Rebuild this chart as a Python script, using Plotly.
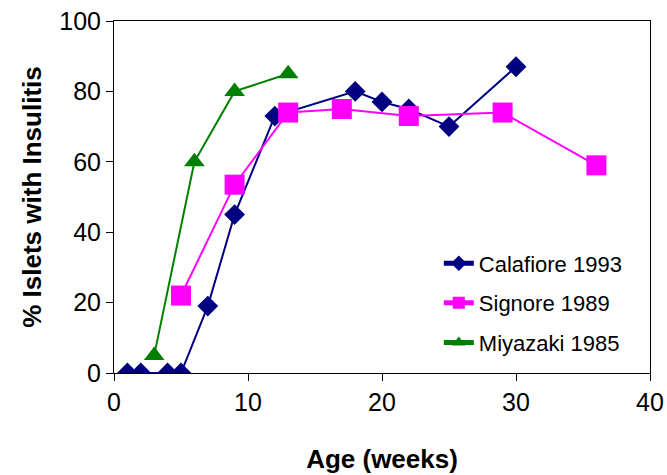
import plotly.graph_objects as go

# Calafiore 1993
cal_x = [1, 2, 4, 5, 7, 9, 12, 18, 20, 22, 25, 30]
cal_y = [0, 0, 0, 0, 19, 45, 73, 80, 77, 75, 70, 87]
# Signore 1989
sig_x = [5, 9, 13, 17, 22, 29, 36]
sig_y = [22, 53.5, 74, 75, 73, 74, 59]
# Miyazaki 1985
miy_x = [3, 6, 9, 13]
miy_y = [5, 60, 80, 85]

x_ticks = [0, 10, 20, 30, 40]
y_ticks = [0, 20, 40, 60, 80, 100]

FONT = "Liberation Sans, Arial, sans-serif"

fig = go.Figure()
fig.add_trace(go.Scatter(x=cal_x, y=cal_y, mode="lines+markers", name="Calafiore 1993",
                         legendgroup="a",
                         line=dict(color="#000080", width=2),
                         marker=dict(symbol="diamond", size=16, color="#000080")))
fig.add_trace(go.Scatter(x=sig_x, y=sig_y, mode="lines+markers", name="Signore 1989",
                         legendgroup="b",
                         line=dict(color="#FF00FF", width=2),
                         marker=dict(symbol="square", size=20, color="#FF00FF")))
fig.add_trace(go.Scatter(x=miy_x, y=miy_y, mode="lines+markers", name="Miyazaki 1985",
                         legendgroup="c",
                         line=dict(color="#008000", width=2),
                         marker=dict(symbol="triangle-up", size=18, color="#008000")))

fig.update_layout(
    width=667, height=475,
    margin=dict(l=114, r=17, t=21, b=102),
    paper_bgcolor="white", plot_bgcolor="white",
    font=dict(family=FONT, size=22, color="black"),
    showlegend=True,
    legend=dict(x=0.606, y=0.199, xanchor="left", yanchor="middle",
                bgcolor="rgba(0,0,0,0)", font=dict(size=22),
                tracegroupgap=8, itemsizing="constant"),
)
fig.update_xaxes(range=[0, 40], tickvals=x_ticks, showgrid=False, zeroline=False,
                 showline=True, linecolor="black", linewidth=1, mirror=True,
                 ticks="outside", ticklen=7, tickcolor="black", automargin=False,
                 tickfont=dict(size=25),
                 title=dict(text="<b>Age (weeks)</b>", font=dict(size=26), standoff=34))
fig.update_yaxes(range=[0, 100], tickvals=y_ticks, showgrid=False, zeroline=False,
                 showline=True, linecolor="black", linewidth=1, mirror=True,
                 ticks="outside", ticklen=7, tickcolor="black", automargin=False,
                 tickfont=dict(size=25), ticksuffix="\u00a0\u2009",
                 title=dict(text="<b>% Islets with Insulitis</b>", font=dict(size=26), standoff=10))

fig.write_html("out.html", config={"displayModeBar": False},
               post_script="document.body.style.margin='0';document.body.style.overflow='hidden';")
